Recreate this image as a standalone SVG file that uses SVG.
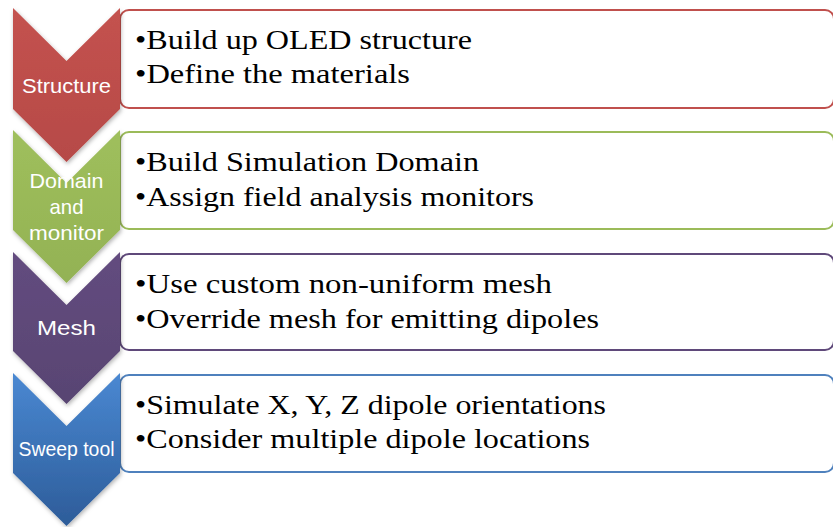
<svg xmlns="http://www.w3.org/2000/svg" width="833" height="527" viewBox="0 0 833 527">
  <defs>
    <linearGradient id="gRed" x1="0" y1="0" x2="0" y2="1">
      <stop offset="0" stop-color="#c4524f"/>
      <stop offset="1" stop-color="#b64a47"/>
    </linearGradient>
    <linearGradient id="gGreen" x1="0" y1="0" x2="0" y2="1">
      <stop offset="0" stop-color="#9fbf5c"/>
      <stop offset="1" stop-color="#93b254"/>
    </linearGradient>
    <linearGradient id="gPurple" x1="0" y1="0" x2="0" y2="1">
      <stop offset="0" stop-color="#634c7f"/>
      <stop offset="1" stop-color="#584472"/>
    </linearGradient>
    <linearGradient id="gBlue" x1="0" y1="0" x2="0" y2="1">
      <stop offset="0" stop-color="#4a88d2"/>
      <stop offset="1" stop-color="#2d5c99"/>
    </linearGradient>
    <filter id="shadow" x="-20%" y="-20%" width="140%" height="140%">
      <feDropShadow dx="1" dy="2" stdDeviation="2" flood-color="#000" flood-opacity="0.3"/>
    </filter>
  </defs>
  <style>
    .box { fill: #ffffff; stroke-width: 2; }
    .item { font-family: "Liberation Serif", "Times New Roman", serif; font-size: 28px; fill: #000; }
    .label { font-family: "Liberation Sans", Arial, sans-serif; font-size: 21px; fill: #ffffff; text-anchor: middle; }
  </style>

  <rect width="833" height="527" fill="#ffffff"/>

  <!-- Step 1: Structure -->
  <g id="step-structure">
    <rect class="box" x="120" y="10" width="714" height="98" rx="9" stroke="#c0504d"/>
    <polygon points="13,8 66.5,61 120,8 120,109 66.5,162 13,109" fill="url(#gRed)" filter="url(#shadow)"/>
    <text class="label" x="66.5" y="93" textLength="89" lengthAdjust="spacingAndGlyphs">Structure</text>
    <text class="item" x="135" y="49" textLength="337" lengthAdjust="spacingAndGlyphs">•Build up OLED structure</text>
    <text class="item" x="135" y="83" textLength="275" lengthAdjust="spacingAndGlyphs">•Define the materials</text>
  </g>

  <!-- Step 2: Domain and monitor -->
  <g id="step-domain">
    <rect class="box" x="120" y="132" width="714" height="97" rx="9" stroke="#9bbb59"/>
    <polygon points="13,130 66.5,183 120,130 120,230 66.5,283 13,230" fill="url(#gGreen)" filter="url(#shadow)"/>
    <text class="label" x="66.5" y="188" textLength="74" lengthAdjust="spacingAndGlyphs">Domain</text>
    <text class="label" x="66.5" y="214" textLength="34" lengthAdjust="spacingAndGlyphs">and</text>
    <text class="label" x="66.5" y="240" textLength="75" lengthAdjust="spacingAndGlyphs">monitor</text>
    <text class="item" x="135" y="171" textLength="344" lengthAdjust="spacingAndGlyphs">•Build Simulation Domain</text>
    <text class="item" x="135" y="206" textLength="399" lengthAdjust="spacingAndGlyphs">•Assign field analysis monitors</text>
  </g>

  <!-- Step 3: Mesh -->
  <g id="step-mesh">
    <rect class="box" x="120" y="254" width="714" height="96" rx="9" stroke="#5f497a"/>
    <polygon points="13,252 66.5,305 120,252 120,351 66.5,404 13,351" fill="url(#gPurple)" filter="url(#shadow)"/>
    <text class="label" x="66.5" y="335" textLength="59" lengthAdjust="spacingAndGlyphs">Mesh</text>
    <text class="item" x="135" y="293" textLength="417" lengthAdjust="spacingAndGlyphs">•Use custom non-uniform mesh</text>
    <text class="item" x="135" y="328" textLength="464" lengthAdjust="spacingAndGlyphs">•Override mesh for emitting dipoles</text>
  </g>

  <!-- Step 4: Sweep tool -->
  <g id="step-sweep">
    <rect class="box" x="120" y="375" width="714" height="97" rx="9" stroke="#4f81bd"/>
    <polygon points="13,373 66.5,426 120,373 120,473 66.5,526 13,473" fill="url(#gBlue)" filter="url(#shadow)"/>
    <text class="label" x="66.5" y="456" textLength="96" lengthAdjust="spacingAndGlyphs">Sweep tool</text>
    <text class="item" x="135" y="414" textLength="471" lengthAdjust="spacingAndGlyphs">•Simulate X, Y, Z dipole orientations</text>
    <text class="item" x="135" y="448" textLength="455" lengthAdjust="spacingAndGlyphs">•Consider multiple dipole locations</text>
  </g>

  <!-- no connectors: the chevrons themselves carry the flow -->
  <g id="connectors"/>
</svg>
